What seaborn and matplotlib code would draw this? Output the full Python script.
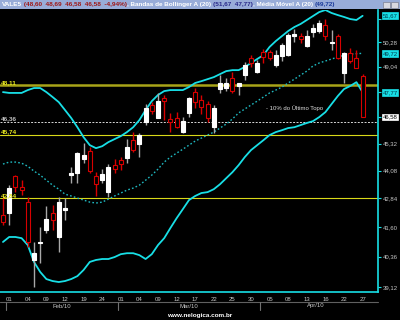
import numpy as np
import pandas as pd
import matplotlib
matplotlib.use("Agg")
import matplotlib.pyplot as plt
import matplotlib.ticker as mticker
import matplotlib.transforms as mtransforms
from matplotlib.patches import Rectangle
from matplotlib.lines import Line2D
import seaborn as sns

# ---------------- data ----------------
dates = ["2010-01-29",
         "2010-02-01", "2010-02-02", "2010-02-03", "2010-02-04", "2010-02-05", "2010-02-08",
         "2010-02-09", "2010-02-10", "2010-02-11", "2010-02-12", "2010-02-17", "2010-02-18",
         "2010-02-19", "2010-02-22", "2010-02-23", "2010-02-24", "2010-02-25", "2010-02-26",
         "2010-03-01", "2010-03-02", "2010-03-03", "2010-03-04", "2010-03-05", "2010-03-08",
         "2010-03-09", "2010-03-10", "2010-03-11", "2010-03-12", "2010-03-15", "2010-03-16",
         "2010-03-17", "2010-03-18", "2010-03-19", "2010-03-22", "2010-03-23", "2010-03-24",
         "2010-03-25", "2010-03-26", "2010-03-29", "2010-03-30", "2010-03-31",
         "2010-04-01", "2010-04-05", "2010-04-06", "2010-04-07", "2010-04-08", "2010-04-09",
         "2010-04-12", "2010-04-13", "2010-04-14", "2010-04-15", "2010-04-16", "2010-04-19",
         "2010-04-20", "2010-04-22", "2010-04-23", "2010-04-26", "2010-04-27"]

opens = [42.11, 42.20, 43.83, 43.34, 42.68, 40.22, 40.93, 41.47, 42.20, 41.18,
         42.33, 43.88, 43.97, 44.61, 44.97, 43.83, 43.65, 43.12, 44.33, 44.56,
         44.65, 45.48, 45.30, 46.33, 47.15, 46.53, 47.49, 46.48, 46.53, 45.86,
         46.77, 47.78, 47.39, 47.20, 46.09, 47.93, 47.98, 48.47, 48.08, 48.62,
         49.48, 48.77, 49.79, 49.79, 49.13, 49.58, 49.63, 50.61, 50.61, 50.10,
         50.82, 50.87, 51.18, 50.25, 50.61, 48.72, 49.73, 49.48, 48.60]
highs = [42.86, 43.43, 43.90, 43.65, 42.90, 40.97, 41.60, 42.50, 42.55, 42.90,
         42.86, 44.24, 44.93, 45.34, 45.16, 44.01, 44.15, 44.38, 44.61, 44.70,
         45.53, 45.86, 45.81, 47.20, 47.29, 47.74, 47.64, 46.77, 46.81, 46.57,
         47.54, 47.98, 47.64, 47.34, 47.15, 48.62, 48.47, 48.77, 48.23, 49.28,
         49.63, 49.38, 49.94, 49.89, 49.89, 50.25, 50.76, 50.97, 50.76, 50.92,
         51.24, 51.45, 51.51, 50.92, 50.71, 49.79, 49.99, 49.89, 48.69]
lows = [41.69, 41.69, 43.12, 42.99, 40.76, 39.12, 40.09, 41.34, 41.47, 40.55,
        41.90, 43.52, 43.52, 44.42, 43.97, 42.95, 43.52, 42.90, 43.97, 44.10,
        44.42, 44.93, 44.70, 46.19, 46.72, 46.53, 46.43, 45.86, 46.05, 45.81,
        46.57, 47.01, 46.72, 46.33, 45.81, 47.74, 47.83, 47.74, 47.64, 48.37,
        49.03, 48.72, 49.23, 49.38, 49.03, 49.33, 49.58, 50.30, 50.25, 50.05,
        50.56, 50.76, 50.40, 49.89, 49.45, 48.23, 49.23, 48.97, 46.58]
closes = [41.82, 43.30, 43.34, 43.21, 40.97, 40.50, 40.97, 41.94, 41.90, 42.68,
          42.42, 43.97, 44.88, 44.79, 44.06, 43.47, 43.92, 44.24, 44.15, 44.38,
          45.16, 45.02, 45.72, 47.01, 46.86, 47.34, 47.34, 46.33, 46.09, 46.38,
          47.49, 47.29, 47.06, 46.53, 47.01, 48.23, 48.23, 47.83, 48.23, 49.13,
          49.23, 49.23, 49.53, 49.48, 49.63, 50.15, 50.66, 50.71, 50.45, 50.61,
          51.02, 51.29, 50.61, 50.30, 49.48, 49.73, 49.33, 49.00, 46.58]

upper_band = [47.78, 47.74, 47.74, 47.74, 47.88, 47.98, 47.98, 47.78, 47.54, 47.29,
              46.91, 46.53, 46.09, 45.62, 45.25, 45.11, 45.20, 45.39, 45.53, 45.67,
              45.86, 46.09, 46.43, 46.91, 47.34, 47.64, 47.83, 47.88, 47.88, 47.88,
              48.03, 48.23, 48.32, 48.42, 48.52, 48.67, 48.82, 48.87, 48.87, 49.03,
              49.23, 49.43, 49.63, 50.05, 50.35, 50.61, 50.87, 51.08, 51.24, 51.45,
              51.66, 51.87, 51.98, 51.82, 51.71, 51.61, 51.50, 51.45, 51.67]
moving_avg = [44.38, 44.47, 44.47, 44.42, 44.28, 44.06, 43.88, 43.65, 43.43, 43.25,
              43.03, 42.95, 42.86, 42.77, 42.68, 42.64, 42.68, 42.81, 42.95, 43.08,
              43.21, 43.30, 43.43, 43.65, 43.88, 44.15, 44.47, 44.70, 44.88, 45.06,
              45.25, 45.44, 45.58, 45.72, 45.86, 46.05, 46.24, 46.48, 46.77, 46.96,
              47.15, 47.34, 47.54, 47.74, 47.88, 48.03, 48.23, 48.42, 48.62, 48.82,
              49.08, 49.23, 49.33, 49.43, 49.53, 49.63, 49.68, 49.70, 49.72]
lower_band = [40.97, 41.18, 41.18, 41.13, 40.84, 40.14, 39.73, 39.44, 39.36, 39.32,
              39.36, 39.44, 39.56, 39.81, 40.14, 40.22, 40.26, 40.26, 40.34, 40.46,
              40.50, 40.50, 40.42, 40.26, 40.46, 40.84, 41.13, 41.56, 41.98, 42.37,
              42.77, 42.95, 43.08, 43.12, 43.25, 43.47, 43.74, 44.01, 44.33, 44.70,
              45.02, 45.25, 45.48, 45.72, 45.86, 45.95, 46.05, 46.09, 46.19, 46.29,
              46.38, 46.57, 46.81, 47.20, 47.59, 47.93, 48.08, 48.27, 47.77]

y_ticks = [39.12, 40.36, 41.60, 42.84, 44.08, 45.32, 46.56, 47.80, 49.04, 50.28, 51.52]
y_ticks_hidden = [46.56, 47.80, 51.52]   # covered by the value boxes in the reference
levels = [48.11, 46.36, 45.74, 42.84]
level_labels = ["48,11", "46,36", "45,74", "42,84"]
topo_note = "10% do Último Topo"
months = ["Feb/10", "Mar/10", "Apr/10"]
watermark = "www.nelogica.com.br"
title_parts = [("VALE5", "white"),
               (" (48,60  48,69  46,58  46,58  -4,94%)", "#a01818"),
               (", Bandas de Bollinger A (20) ", "white"),
               ("(51,67  47,77)", "#2a2a8a"),
               (", Média Móvel A (20) ", "white"),
               ("(49,72)", "#1a3a9a")]

# ---------------- frame ----------------
df = pd.DataFrame({"date": pd.to_datetime(dates), "open": opens, "high": highs,
                   "low": lows, "close": closes, "upper": upper_band,
                   "ma": moving_avg, "lower": lower_band})
df["idx"] = np.arange(len(df))

sns.set_theme(style="dark", rc={"axes.facecolor": "black", "figure.facecolor": "black",
                                "axes.grid": False})
plt.rcParams["font.family"] = ["Liberation Sans", "DejaVu Sans"]

W, H = 400, 320
fig = plt.figure(figsize=(W / 100, H / 100), dpi=100, facecolor="black")
ax = fig.add_axes([0, 28 / H, 378 / W, 282 / H])
ax.set_facecolor("black")

CYAN = "#18dfe6"
GRAYTXT = "#c8c8c8"

# level lines
lvl_styles = [dict(color="#a8a418", lw=1.8, ls="-"),
              dict(color="#d8d8d8", lw=0.7, ls=(0, (2, 1.5))),
              dict(color="#d8d818", lw=0.8, ls="-"),
              dict(color="#d8d818", lw=0.8, ls="-")]
lvl_colors = ["#e8e820", "#c0c0c0", "#e8e820", "#e8e820"]
for v, lab, st, tc in zip(levels, level_labels, lvl_styles, lvl_colors):
    ax.axhline(v, zorder=1, **st)
    ax.text(0.003, v, lab, transform=ax.get_yaxis_transform(), ha="left", va="bottom",
            fontsize=4.6, color=tc, fontweight="bold", zorder=6)

# bands and moving average
sns.lineplot(data=df, x="idx", y="upper", ax=ax, color=CYAN, lw=1.3, zorder=2, legend=False)
sns.lineplot(data=df, x="idx", y="lower", ax=ax, color=CYAN, lw=1.3, zorder=2, legend=False)
sns.lineplot(data=df, x="idx", y="ma", ax=ax, color="#1fb8c0", lw=1.0, zorder=2, legend=False)
ax.lines[-1].set_linestyle((0, (1.2, 1.6)))

# candles
up = df["close"] >= df["open"]
wick_colors = np.where(up, "#a8a8a8", "#d80000")
face_colors = np.where(up, "white", "black")
edge_colors = np.where(up, "white", "#d80000")
ax.vlines(df["idx"], df["low"], df["high"], colors=wick_colors, lw=1.0, zorder=3)
bottoms = np.minimum(df["open"], df["close"])
heights = np.abs(df["close"] - df["open"])
ax.bar(df["idx"], heights, bottom=bottoms, width=0.66, color=face_colors,
       edgecolor=edge_colors, linewidth=0.8, zorder=4)

ax.text(42.4, 47.01, "- " + topo_note, ha="left", va="center", fontsize=4.3,
        color="#e0e0e0", zorder=6)

# axes
ax.set_yscale("log")
ax.set_ylim(38.92, 51.98)
ax.set_xlim(-0.48, 60.48)
ax.yaxis.set_major_locator(mticker.FixedLocator(y_ticks))
ax.yaxis.set_minor_locator(mticker.NullLocator())
ax.yaxis.set_major_formatter(mticker.FuncFormatter(
    lambda v, p: "" if any(abs(v - h) < 1e-6 for h in y_ticks_hidden)
    else f"{v:.2f}".replace(".", ",")))
ax.yaxis.tick_right()
tick_idx = df["idx"].values[1::3]
ax.set_xticks(tick_idx)
ax.set_xticklabels([d.strftime("%d") for d in df["date"].iloc[1::3]])
ax.tick_params(axis="both", which="major", direction="out", length=2.5, width=0.8,
               color=CYAN, labelcolor=GRAYTXT, labelsize=4.3, pad=1.2)
ax.set_xlabel("")
ax.set_ylabel("")
for s in ["left", "top"]:
    ax.spines[s].set_visible(False)
for s in ["right", "bottom"]:
    ax.spines[s].set_color(CYAN)
    ax.spines[s].set_linewidth(1.2)

# highlighted values on the right
boxes = [(upper_band[-1], CYAN, "#003848"),
         (moving_avg[-1], CYAN, "#003848"),
         (lower_band[-1], CYAN, "#003848"),
         (closes[-1], "white", "black")]
for v, fc, tc in boxes:
    ax.annotate(f"{v:.2f}".replace(".", ","), xy=(1, v), xycoords=ax.get_yaxis_transform(),
                xytext=(3.2, 0), textcoords="offset points", ha="left", va="center",
                fontsize=4.3, color=tc, annotation_clip=False, zorder=10,
                bbox=dict(boxstyle="square,pad=0.15", fc=fc, ec=fc, lw=0.5))

# month row under the axis
fy = lambda py: 1 - py / H
blend = mtransforms.blended_transform_factory(ax.transData, fig.transFigure)
fig.add_artist(Line2D([0, 378 / W], [fy(302), fy(302)], transform=fig.transFigure,
                      color="#606060", lw=0.8))
month_edges = [0.5, 18.5, 41.5]
month_centers = [9.5, 30.0, 50.5]
for e in month_edges:
    fig.add_artist(Line2D([e, e], [fy(302), fy(310)], transform=blend, color="#707070", lw=0.8))
for c, m in zip(month_centers, months):
    fig.text(c, fy(306), m, transform=blend, ha="center", va="center",
             fontsize=4.3, color=GRAYTXT)

fig.text(0.5, fy(315), watermark, ha="center", va="center", fontsize=4.6,
         color="white", fontweight="bold")

# title bar
fig.add_artist(Rectangle((0, fy(9)), 1, 9 / H, transform=fig.transFigure,
                         facecolor="#98acd8", edgecolor="none"))
for bx in [383, 391]:
    fig.add_artist(Rectangle((bx / W, fy(8)), 7 / W, 6 / H, transform=fig.transFigure,
                             facecolor="#d8d8e0", edgecolor="#707080", lw=0.4))
x0 = 2
renderer = fig.canvas.get_renderer()
for txt, col in title_parts:
    t = fig.text(x0 / W, fy(4.6), txt, ha="left", va="center", fontsize=4.6,
                 color=col, fontweight="bold")
    bb = t.get_window_extent(renderer=renderer)
    x0 += bb.width

fig.savefig("out.png", dpi=100, facecolor="black")
